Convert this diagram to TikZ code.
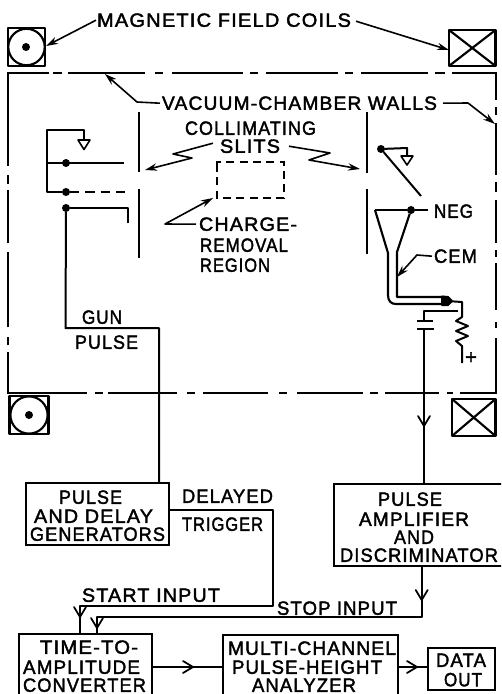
\documentclass[tikz,border=0pt]{standalone}
\usepackage{fontspec}
\usepackage{graphicx}
\setmainfont[LetterSpace=6,FakeBold=2]{Liberation Sans}
\usetikzlibrary{arrows.meta,calc}
\newlength\lw
\newcommand\fitw[2]{\settowidth\lw{\fontsize{14.4pt}{15pt}\selectfont #2}\pgfmathsetmacro\hs{(#1)*0.75/\lw}\scalebox{\hs}[1]{\fontsize{14.4pt}{15pt}\selectfont #2}}
\newcommand\lab[5]{\node[lbl,anchor=base west] (#1) at (#2,#4+6.8) {\fitw{#3-#2}{#5}};}
\newcommand\boxn[5]{\node[boxn,minimum width={(#4-#2)*0.75pt},minimum height={(#5-#3)*0.75pt}] (#1) at ({(#2+#4)/2},{(#3+#5)/2}) {};}
\newcommand\chevd[2]{\draw[thin line] (#1-6,#2-10) -- (#1,#2) -- (#1+6,#2-10);}
\newcommand\chevr[2]{\draw[thin line] (#1-10,#2-6) -- (#1,#2) -- (#1-10,#2+6);}
\tikzset{
  lbl/.style={inner sep=0pt,outer sep=0pt,text=black},
  boxn/.style={draw,line width=1.8pt,inner sep=0pt,outer sep=0pt},
  thin line/.style={line width=1.3pt,line cap=round,line join=round},
  wire/.style={line width=1.5pt,line join=round},
  wall/.style={line width=1.5pt},
  point/.style={-{Stealth[length=9pt,width=5.5pt]},line width=1.2pt,line join=round},
  coil/.style={line width=1.6pt,line join=round},
  dot/.style={circle,fill=black,inner sep=0pt,outer sep=0pt,minimum size=6pt},
  dashy/.style={line width=1.4pt,dash pattern=on 6pt off 4pt},
}
\begin{document}
\begin{tikzpicture}[x=0.75pt,y=-0.75pt]
\useasboundingbox (0,0) rectangle (501,694);
\clip (0,0) rectangle (501,694);
% coils
\draw[coil] (8,28) rectangle (45,66); \draw[coil] (26.5,47) circle (18.2);
\node[dot] (coilA) at (26,47) {};
\draw[coil] (9.5,396) rectangle (48.5,434); \draw[coil] (29,415) circle (18.6);
\node[dot] (coilC) at (29,415) {};
\draw[coil] (449,30) rectangle (495.5,66); \draw[coil] (449,30) -- (495.5,66) (449,66) -- (495.5,30);
\draw[coil] (452,399) rectangle (495.5,436); \draw[coil] (452,399) -- (495.5,436) (452,436) -- (495.5,399);
\coordinate (coilAe) at (46,46); \coordinate (coilBw) at (449,50);
% walls
\draw[wall] (8,166)--(8,73)--(49,73) (53,73)--(62,73) (68,73)--(145,73) (155,73)--(163,73) (172,73)--(243,73) (250,73)--(258,73) (266,73)--(338,73) (345,73)--(353,73) (361,73)--(428,73) (435,73)--(445,73) (452,73)--(495.5,73)--(495.5,100);
\draw[wall] (495.5,107)--(495.5,115) (495.5,123)--(495.5,175) (495.5,182)--(495.5,192) (495.5,200)--(495.5,243) (495.5,250)--(495.5,257) (495.5,263)--(495.5,310) (495.5,322)--(495.5,328) (495.5,338)--(495.5,392.5)--(460,392.5) (453,392.5)--(447,392.5) (439,392.5)--(385,392.5) (378,392.5)--(370,392.5) (363,392.5)--(297,392.5) (287,392.5)--(279,392.5) (268,392.5)--(203,392.5) (195,392.5)--(187,392.5) (177,392.5)--(108,392.5) (103,392.5)--(95,392.5) (87,392.5)--(8,392.5)--(8,352);
\draw[wall] (8,345)--(8,337) (8,327)--(8,252) (8,243)--(8,190) (8,184)--(8,175);
% texts
\lab{tMag}{97}{351}{20}{MAGNETIC FIELD COILS}
\lab{tVac}{162}{437}{103}{VACUUM-CHAMBER WALLS}
\lab{tCol}{185}{316}{128}{COLLIMATING}
\lab{tSli}{220}{280}{146}{SLITS}
\lab{tCha}{199}{297}{224}{CHARGE-}
\lab{tRem}{200}{288}{245}{REMOVAL}
\lab{tReg}{200}{270}{265}{REGION}
\lab{tNeg}{434}{473}{211}{NEG}
\lab{tCem}{434}{477}{256}{CEM}
\lab{tGun}{82}{122}{317}{GUN}
\lab{tPul}{75}{138}{342}{PULSE}
\lab{tDel}{182}{273}{496}{DELAYED}
\lab{tTri}{182}{263}{524}{TRIGGER}
\lab{tSta}{82}{220}{595}{START INPUT}
\lab{tSto}{277}{397}{608}{STOP INPUT}
\lab{pd1}{59}{122}{497}{PULSE}
\lab{pd2}{34}{153}{516}{AND DELAY}
\lab{pd3}{30}{165}{534}{GENERATORS}
\lab{pa1}{378}{442}{499}{PULSE}
\lab{pa2}{359}{469}{519}{AMPLIFIER}
\lab{pa3}{394}{434}{537}{AND}
\lab{pa4}{340}{498}{555}{DISCRIMINATOR}
\lab{ta1}{40}{138}{647}{TIME-TO-}
\lab{ta2}{23}{140}{667}{AMPLITUDE}
\lab{ta3}{23}{146}{685}{CONVERTER}
\lab{mc1}{228}{396}{648}{MULTI-CHANNEL}
\lab{mc2}{232}{382}{667}{PULSE-HEIGHT}
\lab{mc3}{252}{356}{685}{ANALYZER}
\lab{do1}{436}{486}{660}{DATA}
\lab{do2}{444}{482}{679.5}{OUT}
\node[lbl,font=\fontsize{15pt}{15pt}\selectfont] (tPlus) at (471,358) {+};
% boxes
\boxn{pd}{26}{483}{169}{545}
\boxn{pa}{334}{484}{503}{566}
\boxn{tac}{19}{634}{152}{700}
\boxn{mca}{223}{635}{398}{700}
\boxn{dat}{428}{648}{495}{690}
% leader arrows
\draw[point] (tMag.west) ++(-1,0) -- (coilAe);
\draw[point] (tMag.east) ++(5,1) -- (coilBw);
\coordinate (vl1) at (137,102); \coordinate (vl2) at (105,74);
\draw[point] (tVac.west) ++(-2,0) -- (vl1) -- (vl2);
\coordinate (vr1) at (468,103); \coordinate (vr2) at (495,124);
\draw[point] (tVac.east) ++(6,0) -- (vr1) -- (vr2);
\coordinate (sl1) at (173,154); \coordinate (sl2) at (192,158); \coordinate (sl3) at (145,170);
\draw[point] (tSli.west) ++(-7,-3) -- (sl1) -- (sl2) -- (sl3);
\coordinate (sr1) at (330,153); \coordinate (sr2) at (309,160); \coordinate (sr3) at (360,169);
\draw[point] (tSli.east) ++(9,0) -- (sr1) -- (sr2) -- (sr3);
\coordinate (cr1) at (165,224); \coordinate (cr2) at (213,198);
\draw[point] (tCha.west) ++(-3,0) -- (cr1) -- (cr2);
\coordinate (ce1) at (417,255); \coordinate (ce2) at (397,277);
\draw[point] (tCem.west) ++(-2,0) -- (ce1) -- (ce2);
% slits
\draw[wire] (138.5,112)--(138.5,172) (138.5,189)--(138.5,258);
\draw[wire] (367,112)--(367,173) (367,189)--(367,254);
\draw[dashy] (217,166)--(217,162)--(284,162)--(284,198)--(217,198)--(217,166);
% gun
\node[dot] (g1) at (66,163) {};
\node[dot] (g2) at (66,192) {};
\node[dot] (g3) at (66,208) {};
\coordinate (gtop) at (84,130); \coordinate (gtri) at (84,140);
\draw[wire] (124,163) -- (47,163);
\draw[wire] (gtri) -- (gtop) -- (47,130) -- (47,192) -- (g2);
\draw[wire,line width=1.2pt] (gtri)++(-6,0) -- ++(12,0) -- (84,149.5) -- cycle;
\draw[dashy,dash pattern=on 7pt off 4.5pt] (g2) -- (126,192);
\draw[wire] (128,223) -- (128,208) -- (g3);
\coordinate (bend1) at (65.5,328); \coordinate (bend2) at (159,328);
\draw[wire] (g3) -- (bend1) -- (bend2) -- (bend2 |- pd.north);
% detector
\node[dot] (d1) at (381,149) {};
\coordinate (dtri) at (407,156);
\draw[wire] (d1) -- (407,148) -- (dtri);
\draw[wire,line width=1.2pt] (dtri)++(-6,0) -- ++(12,0) -- (407,165) -- cycle;
\draw[wire] (d1) -- (421,196);
\node[dot] (d2) at (411,210) {};
\coordinate (dneg) at (375,210);
\draw[wire] (tNeg.west |- d2) ++(-6,0) -- (d2) -- (dneg);
\draw[wire,line width=1.6pt] (dneg) -- (388,253) -- (388,295) .. controls (388,301) and (391,304) .. (396,304) -- (445,304);
\draw[wire,line width=1.6pt] (d2) -- (397,252) -- (397,297) -- (445,297);
\node[circle,fill=black,inner sep=0pt,minimum size=6pt] (tip) at (447,301) {};
\draw[wire,fill=black] (442,296.5) -- (448,297) -- (452,301) -- (448,305) -- (442,305) -- cycle;
\coordinate (t2) at (462,302); \coordinate (r0) at (462,317);
\draw[wire] (tip) -- (t2) -- (r0) -- (456,321) -- (468,326) -- (456,331) -- (468,336) -- (456,341) -- (462,346) -- (462,363);
\coordinate (c1) at (458,311); \coordinate (c2) at (424,311); \coordinate (c3) at (424,321); \coordinate (c4) at (424,329);
\draw[wire] (c1) -- (c2) -- (c3) (c3)++(-7,0) -- ++(16,0) (c4)++(-7,0) -- ++(17,0);
\draw[wire] (c4) -- (c4 |- pa.north);
\chevd{424}{426}
% lower wiring
\coordinate (tr1) at (273,510); \coordinate (tr2) at (273,606); \coordinate (tr3) at (80,606);
\draw[wire] (pd.east |- tr1) -- (tr1) -- (tr2) -- (tr3) -- (tr3 |- tac.north);
\chevd{80}{617}
\coordinate (st1) at (421.7,617); \coordinate (st2) at (97,617);
\draw[wire] (st1 |- pa.south) -- (st1) -- (st2) -- (st2 |- tac.north);
\chevd{421.7}{600}
\chevd{97}{628}
\coordinate (lk1) at (0,667);
\draw[wire] (tac.east |- lk1) -- (mca.west |- lk1);
\chevr{193}{667}
\draw[wire] (mca.east |- lk1) -- (dat.west |- lk1);
\chevr{417}{667}
\end{tikzpicture}
\end{document}
